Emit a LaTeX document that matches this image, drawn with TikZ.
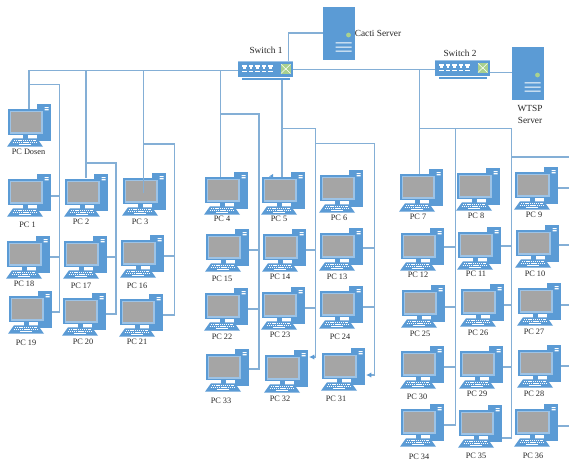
\documentclass[tikz,border=0pt]{standalone}
\usepackage{fontspec}
\usetikzlibrary{arrows.meta}
\setmainfont{Liberation Serif}
\definecolor{pcblue}{HTML}{5B9BD5}
\definecolor{lnk}{HTML}{84AFD6}
\definecolor{scr}{HTML}{A5A5A5}
\definecolor{monb}{HTML}{9DC3E6}
\definecolor{led}{HTML}{A9D18E}
\tikzset{
  x=0.75pt,y=-0.75pt,
  lnkline/.style={draw=lnk,line width=0.85pt},
  lnkarrow/.style={lnkline,-{Latex[length=4pt,width=4pt,color=pcblue]}},
  lbl/.style={font=\fontsize{6.2pt}{8pt}\selectfont,text=black!85,inner sep=0pt,align=center},
  lbll/.style={font=\fontsize{7pt}{9pt}\selectfont,text=black!85,inner sep=0pt,align=center},
  pics/pcicon/.style={code={
    \fill[pcblue] (29.7,0) rectangle (44,37);
    \fill[white] (37.5,3) rectangle (41.5,4.2) (37.5,5.2) rectangle (41.5,6.4);
    \fill[pcblue] (15.5,31) rectangle (21,34.5);
    \fill[pcblue] (1,5.3) rectangle (37,31);
    \fill[monb] (2.5,6.8) rectangle (35.5,29.5);
    \fill[scr] (4,8) rectangle (33.7,28);
    \fill[pcblue] (6,34.3) -- (30,34.3) -- (36,42.7) -- (0,42.7) -- cycle;
    \draw[white,line width=0.7pt,dash pattern=on 1pt off 0.6pt] (7,36.5) -- (29,36.5);
    \draw[white,line width=0.7pt,dash pattern=on 1pt off 0.6pt] (5.5,38.5) -- (30.5,38.5);
    \fill[white] (12,40.2) rectangle (24,41.2);
  }},
  pics/switchicon/.style={code={
    \fill[pcblue] (0,0) rectangle (55,15.5);
    \fill[monb] (0,0) rectangle (55,1);
    \foreach \q in {4,10.5,17,23.5,30}{
      \fill[white] (\q,4) rectangle +(4.5,2.2);
      \fill[white] (\q+1,6.2) rectangle +(2.5,2);
      \fill[white] (\q,10) rectangle +(4.5,1);
    }
    \fill[led] (42.5,2.8) rectangle (53,13);
    \draw[white,line width=0.4pt] (43,3.3) -- (52.5,12.5) (52.5,3.3) -- (43,12.5);
    \fill[pcblue] (4,17.2) rectangle (51.5,18.6);
  }},
  pics/servericon/.style={code={
    \fill[pcblue] (0,0) rectangle (32,52.5);
    \fill[led] (25.5,28) circle (2.4);
    \fill[white] (12.5,35.3) rectangle (28.5,36.3) (12.5,39.5) rectangle (28.5,40.5) (12.5,43.7) rectangle (28.5,44.7);
  }},
}
\begin{document}
\begin{tikzpicture}
\useasboundingbox (0,0) rectangle (569,461);
\fill[white] (0,0) rectangle (569,461);

\coordinate (sw1) at (238,61);
\coordinate (sw2) at (435,60);
\coordinate (cacti) at (323,7);
\coordinate (wtsp) at (512,47);
\coordinate (b1a) at (29,70.5); \coordinate (b2a) at (86,70.5); \coordinate (b3a) at (143.5,70.5);
\coordinate (b4a) at (220.5,70.5); \coordinate (b7a) at (419.5,69.5);
\coordinate (sw1r) at (293,69.5); \coordinate (sw2l) at (435,69.5);
\coordinate (sw1b) at (282,78); \coordinate (sw1l) at (238,70.5);
\coordinate (sw2r) at (490,72.7); \coordinate (wtspl) at (512,72.7);
\coordinate (sw1t) at (288.5,61); \coordinate (cactil) at (323,33);

\draw[lnkline] (sw1l) -- (b1a) -- (29,109);
\draw[lnkline] (sw1r) -- (sw2l);
\draw[lnkline] (sw1t) |- (cactil);
\draw[lnkline] (sw2r) -- (wtspl);
\draw[lnkline] (b2a) -- (86,178);
\draw[lnkline] (b4a) -- (220.5,177);
\draw[lnkline] (sw1b) -- (282,177);
\draw[lnkline] (b7a) -- (419.5,175);

% left bus groups
\draw[lnkline] (29,84.5) -| (59.5,312) -- (52,312);
\draw[lnkline] (51,196) -- (59.5,196);
\draw[lnkline] (49,257) -- (59.5,257);
\draw[lnkline] (86,163) -| (116,314) -- (106,314);
\draw[lnkline] (107,257) -- (116,257);
\draw[lnkline] (143.5,144) -| (174.5,315) -- (163,315);
\draw[lnkline] (164,256) -- (174.5,256);
% middle
\draw[lnkline] (220.5,114) -| (259,369) -- (249,369);
\draw[lnkline] (248,250) -- (259,250);
\draw[lnkline] (248,309) -- (259,309);
\draw[lnkline] (282,128.5) -| (315.5,357);
\draw[lnkarrow] (315.5,357) -- (309,357);
\draw[lnkline] (306,250) -- (315.5,250);
\draw[lnkline] (305,308) -- (315.5,308);
\draw[lnkline] (315.5,143.5) -| (374.5,375);
\draw[lnkarrow] (374.5,375) -- (366,375);
\draw[lnkline] (363,248) -- (374.5,248);
\draw[lnkline] (363,307) -- (374.5,307);
% right
\draw[lnkline] (419.5,128.5) -| (511.5,438) -- (502,438);
\draw[lnkline] (455.5,128.5) -- (455.5,425) -- (444,425);
\draw[lnkline] (444,247) -- (455.5,247);
\draw[lnkline] (445,307) -- (455.5,307);
\draw[lnkline] (444,367) -- (455.5,367);
\draw[lnkline] (501,246) -- (511.5,246);
\draw[lnkline] (503,305) -- (511.5,305);
\draw[lnkline] (502,367) -- (511.5,367);
\draw[lnkline] (511.5,157) -- (569,157);
\foreach \yy in {188,245,305,366,426}{\draw[lnkline] (558,\yy) -- (569,\yy);}

\foreach \nm/\xx/\yy/\lx/\ly in {
 PC Dosen/7/104/28.5/152, PC 1/7/174/27.5/225, PC 2/64/174/81/222, PC 3/122/173/140/222,
 PC 4/204/172/222/219, PC 5/261/172/279/219, PC 6/319/170/339/218, PC 7/399/169/418/217,
 PC 8/456/168/476/216, PC 9/514/167/534/215,
 PC 18/6/236/24/284, PC 17/63/236/81/286, PC 16/120/235/137/286, PC 15/205/229/222/279,
 PC 14/262/229/280/277, PC 13/319/228/337/277, PC 12/400/228/418/275, PC 11/457/227/476/274,
 PC 10/515/225/535/274,
 PC 19/8/291/26/343, PC 20/62/293/83/342, PC 21/119/294/137/342, PC 22/204/288/222/337,
 PC 23/261/287/280/335, PC 24/319/286/340/337, PC 25/401/285/420/334, PC 26/460/284/478/333,
 PC 27/517/283/534/332,
 PC 33/205/349/221/401, PC 32/264/350/280/399, PC 31/321/348/336/399, PC 30/400/346/417/397,
 PC 29/459/346/477/394, PC 28/517/345/534/394,
 PC 34/400/404/419/457, PC 35/458/405/476/456, PC 36/514/404/533/456}{
  \pic at (\xx,\yy) {pcicon};
  \node[lbl,name=lab-\xx-\yy] at (\lx,\ly) {\nm};
}
\draw[lnkline] (b3a) -- (143.5,193);
\fill[pcblue] (269,176.5) -- (273,174) -- (273,177) -- cycle;

\pic at (sw1) {switchicon};
\pic at (sw2) {switchicon};
\pic at (cacti) {servericon};
\pic at (wtsp) {servericon};
\node[lbll] (lsw1) at (266,50) {Switch 1};
\node[lbll] (lsw2) at (460,53) {Switch 2};
\node[lbll] (lcacti) at (378,33) {Cacti Server};
\node[lbll] (lwtsp) at (530,114) {WTSP\\Server};
\end{tikzpicture}
\end{document}
